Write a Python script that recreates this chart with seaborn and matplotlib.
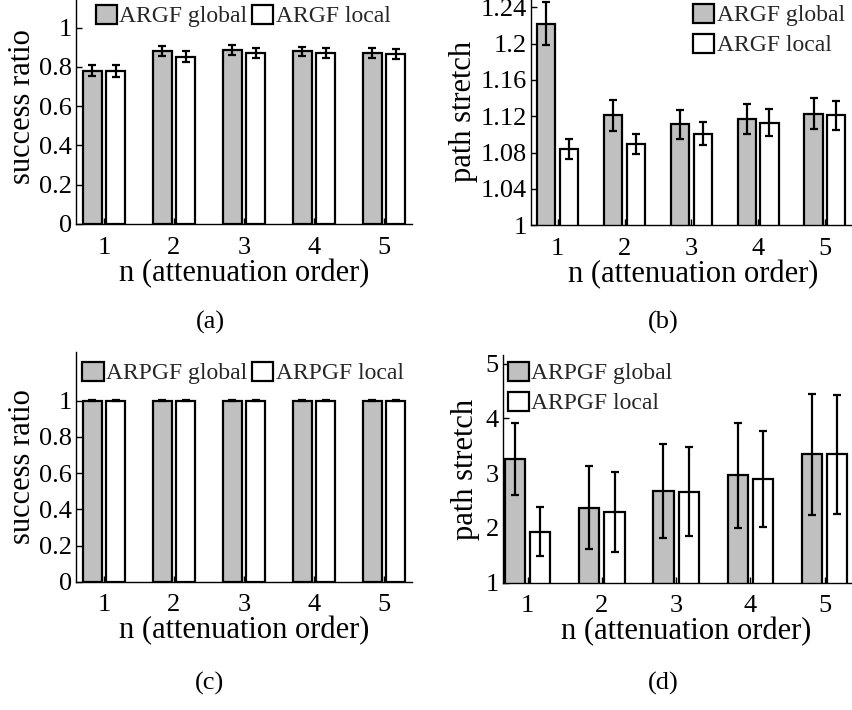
import matplotlib
matplotlib.use("Agg")
import matplotlib.pyplot as plt
import seaborn as sns
import pandas as pd

# ---------------- data ----------------
n_order = [1, 2, 3, 4, 5]

# (a) success ratio, ARGF
a_global = [0.78, 0.88, 0.885, 0.88, 0.87]
a_global_err = [0.028, 0.025, 0.026, 0.024, 0.025]
a_local = [0.78, 0.852, 0.87, 0.872, 0.866]
a_local_err = [0.029, 0.027, 0.025, 0.024, 0.024]

# (b) path stretch, ARGF
b_global = [1.222, 1.121, 1.111, 1.117, 1.123]
b_global_err = [0.024, 0.017, 0.016, 0.016, 0.017]
b_local = [1.084, 1.089, 1.101, 1.113, 1.121]
b_local_err = [0.011, 0.011, 0.013, 0.015, 0.016]

# (c) success ratio, ARPGF
c_global = [1.0, 1.0, 1.0, 1.0, 1.0]
c_global_err = [0.002, 0.002, 0.002, 0.002, 0.002]
c_local = [1.0, 1.0, 1.0, 1.0, 1.0]
c_local_err = [0.002, 0.002, 0.002, 0.002, 0.002]

# (d) path stretch, ARPGF
d_global = [3.26, 2.37, 2.68, 2.96, 3.34]
d_global_err = [0.66, 0.76, 0.86, 0.96, 1.10]
d_local = [1.93, 2.29, 2.66, 2.89, 3.34]
d_local_err = [0.45, 0.73, 0.81, 0.88, 1.08]

labels_a = ["ARGF global", "ARGF local"]
labels_c = ["ARPGF global", "ARPGF local"]

yticks_ratio = [0, 0.2, 0.4, 0.6, 0.8, 1]
yticklabels_ratio = ["0", "0.2", "0.4", "0.6", "0.8", "1"]
yticks_b = [1, 1.04, 1.08, 1.12, 1.16, 1.2, 1.24]
yticklabels_b = ["1", "1.04", "1.08", "1.12", "1.16", "1.2", "1.24"]
yticks_d = [1, 2, 3, 4, 5]
yticklabels_d = ["1", "2", "3", "4", "5"]

xlabel = "n (attenuation order)"

# ---------------- style ----------------
sns.set_theme(style="ticks")
plt.rcParams["font.family"] = ["Liberation Serif", "DejaVu Serif"]

GRAY = "#c0c0c0"
W, H = 852, 710
fig = plt.figure(figsize=(W / 100, H / 100), dpi=100)

FS = 19      # tick labels
AFS = 22     # axis labels
LFS = 17     # legend


def px_axes(left, bottom_from_top, width, height):
    return fig.add_axes([left / W, (H - bottom_from_top) / H, width / W, height / H])


def panel(ax, g, ge, l, le, labels, ylim, xlim, yticks, yticklabels, ylabel,
          leg_center, ncol, ylabelpad):
    df = pd.DataFrame({
        "n": n_order * 2,
        "value": list(g) + list(l),
        "method": [labels[0]] * len(g) + [labels[1]] * len(l),
    })
    sns.barplot(data=df, x="n", y="value", hue="method", native_scale=True,
                palette=[GRAY, "white"], edgecolor="black", linewidth=1.6,
                width=0.68, gap=0.2, errorbar=None, legend=False, ax=ax,
                saturation=1)
    conts = list(ax.containers)
    for cont, vals, errs in zip(conts, [g, l], [ge, le]):
        xs = [b.get_x() + b.get_width() / 2 for b in cont.patches]
        ax.errorbar(xs, vals, yerr=errs, fmt="none", ecolor="black",
                    elinewidth=1.6, capsize=2.6, capthick=1.6, zorder=5)
    ax.set_xlim(*xlim)
    ax.set_ylim(*ylim)
    ax.set_xticks(n_order)
    ax.set_xticklabels([str(v) for v in n_order])
    ax.set_yticks(yticks)
    ax.set_yticklabels(yticklabels)
    ax.tick_params(direction="in", length=4, width=1, labelsize=FS,
                   colors="black")
    ax.tick_params(axis="x", pad=9)
    ax.tick_params(axis="y", pad=3)
    ax.set_xlabel(xlabel, fontsize=AFS, labelpad=0, color="black")
    ax.set_ylabel(ylabel, fontsize=AFS, labelpad=ylabelpad, color="black")
    for s in ["top", "right"]:
        ax.spines[s].set_visible(False)
    for s in ["left", "bottom"]:
        ax.spines[s].set_color("black")
        ax.spines[s].set_linewidth(1.0)
    ax.set_facecolor("white")
    ax.legend(handles=conts[:2], labels=labels, loc="center",
              bbox_to_anchor=(leg_center[0] / W, 1 - leg_center[1] / H),
              bbox_transform=fig.transFigure, frameon=False, ncol=ncol,
              fontsize=LFS, handlelength=0.9, handleheight=0.9,
              handletextpad=0.1, columnspacing=0.2, labelspacing=0.3,
              borderpad=0.0, borderaxespad=0.0)


# (a)
ax_a = px_axes(76, 224, 4.8 * 70, 1.2 * 196.3)
panel(ax_a, a_global, a_global_err, a_local, a_local_err, labels_a,
      (0, 1.2), (0.6, 5.4), yticks_ratio, yticklabels_ratio, "success ratio",
      (243, 16), 2, 1)

# (b)
ax_b = px_axes(531, 225.3, 4.85 * 66.8, 0.25 * 908.3)
panel(ax_b, b_global, b_global_err, b_local, b_local_err, labels_a,
      (1, 1.25), (0.6, 5.45), yticks_b, yticklabels_b, "path stretch",
      (769, 30), 1, 2)

# (c)
ax_c = px_axes(76, 581.7, 4.8 * 70, 1.27 * 181)
panel(ax_c, c_global, c_global_err, c_local, c_local_err, labels_c,
      (0, 1.27), (0.6, 5.4), yticks_ratio, yticklabels_ratio, "success ratio",
      (243, 373), 2, 1)

# (d)
ax_d = px_axes(503, 582.7, 4.933 * 74.2, 4.15 * 54.8)
panel(ax_d, d_global, d_global_err, d_local, d_local_err, labels_c,
      (1, 5.15), (0.667, 5.6), yticks_d, yticklabels_d, "path stretch",
      (590, 388), 1, 4)

for lab, (x, y) in zip(["(a)", "(b)", "(c)", "(d)"],
                       [(210, 322), (663, 322), (210, 683), (663, 683)]):
    fig.text(x / W, 1 - y / H, lab, ha="center", va="center", fontsize=FS,
             color="black")

fig.savefig("out.png", dpi=100, facecolor="white")
